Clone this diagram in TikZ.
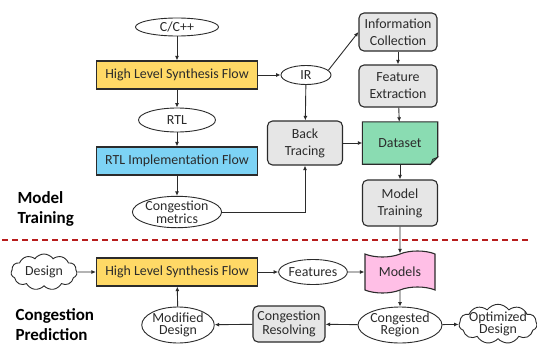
\documentclass[tikz,border=0pt]{standalone}
\usepackage{fontspec}
\setmainfont{Carlito}
\usepackage{xcolor}
\usepackage{tikz}
\usetikzlibrary{arrows.meta,positioning,shapes.geometric,shapes.symbols,backgrounds}
\definecolor{FlowGold}{HTML}{FFD966}
\definecolor{FlowSky}{HTML}{7DD3F5}
\definecolor{FlowMint}{HTML}{8ADCB2}
\definecolor{FlowMintDark}{HTML}{3E7F5C}
\definecolor{FlowPink}{HTML}{FFBFE6}
\definecolor{FlowGrey}{HTML}{E6E6E6}
\definecolor{FlowEdge}{HTML}{2B2B2B}
\definecolor{FlowRed}{HTML}{B81C1C}

\begin{document}
\begin{tikzpicture}[
    x=1pt, y=-1pt,
    every node/.style={font=\fontsize{13.9}{17}\selectfont, text=FlowEdge},
    flow/.style={
        rectangle,
        draw=FlowEdge,
        line width=1.1pt,
        minimum width=161pt,
        minimum height=28pt,
        inner sep=2pt
    },
    soft/.style={
        rectangle,
        rounded corners=5pt,
        draw=FlowEdge,
        fill=FlowGrey,
        line width=1.1pt,
        minimum width=76pt,
        align=center,
        inner sep=2pt
    },
    oval/.style={
        ellipse,
        draw=FlowEdge,
        line width=0.9pt,
        fill=white,
        align=center,
        inner sep=0pt,
        font=\fontsize{13.9}{12.5}\selectfont
    },
    puff/.style={
        cloud,
        cloud puffs=11,
        cloud puff arc=110,
        aspect=2,
        draw=FlowEdge,
        line width=0.9pt,
        align=center,
        inner sep=0pt,
        font=\fontsize{13.9}{12.5}\selectfont
    },
    heading/.style={
        anchor=west,
        align=left,
        font=\fontsize{17}{20}\selectfont\bfseries,
        text=black
    },
    arrow/.style={
        -{Latex[length=4.5pt,width=4pt]},
        line width=0.9pt,
        color=FlowEdge
    }
]
\useasboundingbox (0,0) rectangle (537,345);

% training flow
\node[oval, minimum width=83pt, minimum height=18pt] (cpp) at (177,27) {C/C++};
\node[flow, fill=FlowGold] (hlsA) at (177,75) {High Level Synthesis Flow};
\node[oval, minimum width=77pt, minimum height=24pt] (rtl) at (177,120) {RTL};
\node[flow, fill=FlowSky] (impl) at (177,161) {RTL Implementation Flow};
\node[oval, minimum width=83pt, minimum height=30pt] (metrics) at (177,212) {Congestion\\metrics};

\node[oval, minimum width=50pt, minimum height=19pt] (ir) at (306,75) {IR};
\node[soft, minimum height=38pt, minimum width=78pt] (info) at (398,32) {Information\\Collection};
\node[soft, minimum height=42pt, minimum width=78pt] (feat) at (398,86) {Feature\\Extraction};
\node[soft, minimum height=44pt, minimum width=75pt] (trace) at (305,143) {Back\\Tracing};
\node[minimum width=75pt, minimum height=42pt, inner sep=0pt] (data) at (400,143) {Dataset};
\node[soft, minimum height=46pt, minimum width=75pt] (train) at (400,203) {Model\\Training};

\begin{scope}[on background layer]
\draw[draw=FlowEdge, line width=1.1pt, fill=FlowMint]
    (data.north west) -- (data.north east) -- ([yshift=7pt]data.south east)
    -- ([xshift=-7pt]data.south east) -- (data.south west) -- cycle;
\draw[draw=FlowEdge, line width=0.7pt, fill=FlowMintDark]
    ([yshift=7pt]data.south east) -- ([xshift=-5pt,yshift=5pt]data.south east)
    -- ([xshift=-7pt]data.south east) -- cycle;
\end{scope}

\node[heading] (lblTrain) at (14,209) {Model\\Training};

% separator
\draw[FlowRed, line width=1.2pt, dash pattern=on 6pt off 4pt] (2,240) -- (531,240);

% prediction flow
\node[puff, minimum width=66pt, minimum height=36pt] (design) at (44,272) {Design};
\node[flow, fill=FlowGold] (hlsB) at (177,272) {High Level Synthesis Flow};
\node[oval, minimum width=56pt, minimum height=25pt] (feats) at (313,272) {Features};
\node[tape, draw=FlowEdge, line width=1.1pt, fill=FlowPink, minimum width=70pt,
      minimum height=42pt, tape bend height=6pt, inner sep=2pt] (models) at (400,272) {Models};
\node[oval, minimum width=75pt, minimum height=36pt] (region) at (400,325) {Congested\\Region};
\node[puff, minimum width=78pt, minimum height=37pt, inner sep=-5pt,
      aspect=2.2] (optim) at (498,324) {Optimized\\Design};
\node[soft, minimum height=36pt, minimum width=72pt,
      font=\fontsize{13.9}{14.3}\selectfont] (resolve) at (289,324) {Congestion\\Resolving};
\node[oval, minimum width=70pt, minimum height=36pt] (modified) at (178,325) {Modified\\Design};

\node[heading] (lblPred) at (12,325) {Congestion\\Prediction};

% connectors
\draw[arrow] (cpp) -- (hlsA);
\draw[arrow] (hlsA) -- (rtl);
\draw[arrow] (rtl) -- (impl);
\draw[arrow] (impl) -- (metrics);
\draw[arrow] (hlsA) -- (ir);
\draw[arrow] (ir.12) -- (info.west);
\draw[arrow] (ir) -- (trace);
\draw[arrow] (metrics.east) -| (trace.south);
\draw[arrow] (info) -- (feat);
\draw[arrow] (feat) -- (data);
\draw[arrow] (trace) -- (data);
\draw[arrow] (data) -- (train);
\draw[arrow] (train) -- (models);

\draw[arrow] (design) -- (hlsB);
\draw[arrow] (hlsB) -- (feats);
\draw[arrow] (feats) -- (models);
\draw[arrow] (models) -- (region);
\draw[arrow] (region) -- (optim);
\draw[arrow] (region) -- (resolve);
\draw[arrow] (resolve) -- (modified);
\draw[arrow] (modified) -- (hlsB);

\end{tikzpicture}
\end{document}
